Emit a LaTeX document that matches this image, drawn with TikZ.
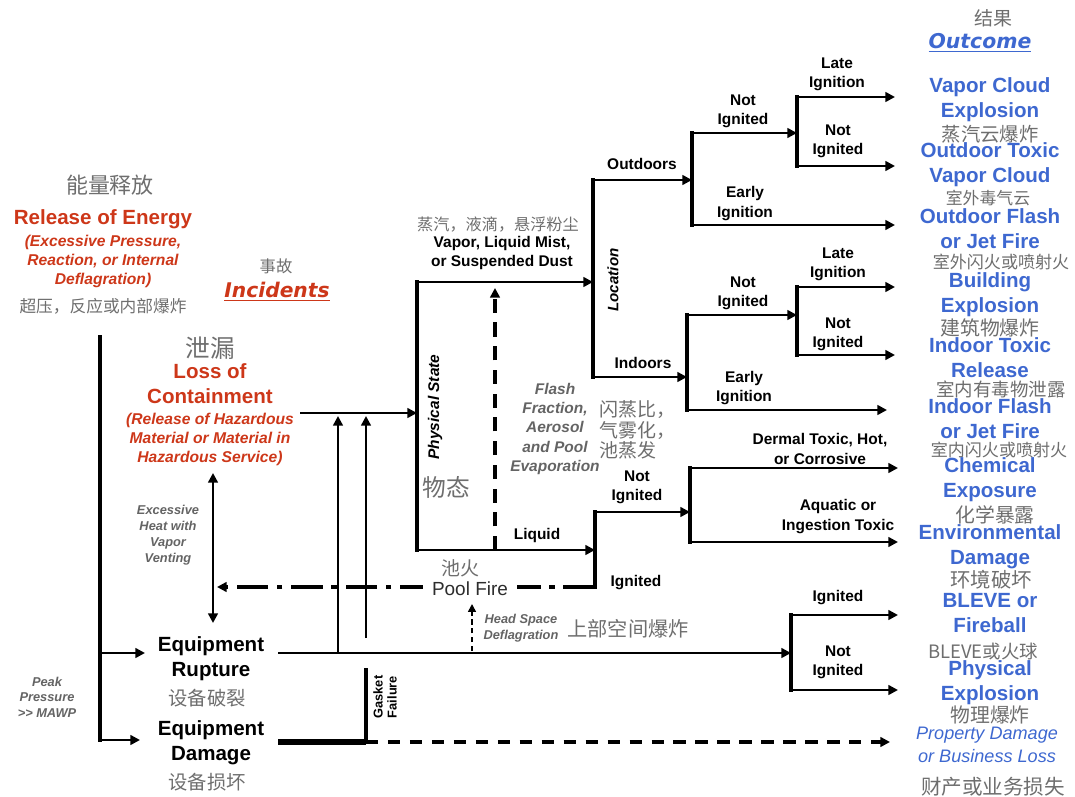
\documentclass[tikz,border=0pt]{standalone}
\usepackage{fontspec}
\setmainfont{Liberation Sans}
\newfontfamily\cjk{Noto Sans CJK SC}
\newfontfamily\verd{DejaVu Sans}
\usetikzlibrary{arrows.meta}

\definecolor{relred}{RGB}{205,55,25}
\definecolor{outblue}{RGB}{62,104,208}
\definecolor{cngray}{RGB}{110,110,110}
\definecolor{notegray}{RGB}{100,100,100}

\tikzset{
  lbl/.style={font=\bfseries\fontsize{8.8}{11}\selectfont, align=center, inner sep=0pt},
  head/.style={font=\bfseries\fontsize{11.7}{14.2}\selectfont, align=center, inner sep=0pt},
  outc/.style={head, text=outblue},
  cn/.style={font=\cjk\fontsize{10.5}{12}\selectfont, text=cngray, inner sep=0pt},
  rednote/.style={font=\bfseries\itshape\fontsize{8.9}{10.8}\selectfont, text=relred, align=center, inner sep=0pt},
  note/.style={font=\bfseries\itshape\fontsize{7.3}{9}\selectfont, text=notegray, align=center, inner sep=0pt},
  flow/.style={line width=1.6pt, -{Triangle[length=5.5pt,width=5.5pt]}},
  link/.style={line width=1.6pt},
  split/.style={line width=2.4pt, line cap=rect},
}

\begin{document}
\begin{tikzpicture}[x=0.02cm,y=-0.02cm]
    \useasboundingbox (0,0) rectangle (1075,797);

    % Energy release and incidents
    \node[cn, font=\cjk\fontsize{12.5}{14}\selectfont] (roeCn) at (110,185) {能量释放};
    \node[head, text=relred] (roe) at (103,219) {Release of Energy};
    \node[rednote] (roeNote) at (103,261) {(Excessive Pressure,\\Reaction, or Internal\\Deflagration)};
    \node[cn, font=\cjk\fontsize{9.5}{11}\selectfont] (roeCn2) at (103,306) {超压，反应或内部爆炸};
    \node[cn, font=\cjk\fontsize{9.3}{11}\selectfont] (incCn) at (276,266) {事故};
    \node[font=\verd\bfseries\itshape\fontsize{11.5}{14}\selectfont, text=relred, inner sep=0pt] (inc) at (277,292) {\underline{Incidents}};

    \node[cn, font=\cjk\fontsize{14}{16}\selectfont] (locCn) at (210,348) {泄漏};
    \node[head, text=relred] (loc) at (210,384) {Loss of\\Containment};
    \node[rednote] (locNote) at (210,439) {(Release of Hazardous\\Material or Material in\\Hazardous Service)};

    \node[head] (rup) at (211,658.5) {Equipment\\Rupture};
    \node[cn, font=\cjk\fontsize{11}{13}\selectfont] (rupCn) at (207,698) {设备破裂};
    \node[head] (dam) at (211,742.5) {Equipment\\Damage};
    \node[cn, font=\cjk\fontsize{11}{13}\selectfont] (damCn) at (207,782) {设备损坏};

    \node[note, font=\bfseries\itshape\fontsize{7.3}{8.8}\selectfont] (peak) at (47,697) {Peak\\Pressure\\>{}> MAWP};
    \node[note, font=\bfseries\itshape\fontsize{7.3}{9.2}\selectfont] (heat) at (168,535) {Excessive\\Heat with\\Vapor\\Venting};
    \node[note, font=\bfseries\fontsize{7.3}{8}\selectfont, text=black, rotate=90] (gasket) at (385,697) {Gasket\\Failure};

    % left trunk
    \coordinate (trT) at (100,337);
    \coordinate (trR) at (100,653);
    \coordinate (trD) at (100,740);
    \coordinate (rupIn) at (145,653);
    \coordinate (damIn) at (140,740);
    \draw[split] (trT) -- (trD);
    \draw[flow] (trR) -- (rupIn);
    \draw[flow] (trD) -- (damIn);
    \coordinate (heatT) at (213,473);
    \coordinate (heatB) at (213,623);
    \draw[line width=1.6pt, {Triangle[length=5.5pt,width=5.5pt]}-{Triangle[length=5.5pt,width=5.5pt]}] (heatT) -- (heatB);

    % physical state
    \coordinate (locS) at (300,413);
    \coordinate (ps) at (417,413);
    \coordinate (psT) at (417,282);
    \coordinate (psB) at (417,550);
    \draw[split] (psT) -- (psB);
    \draw[flow] (locS) -- (ps);
    \coordinate (upA) at (338,653);
    \coordinate (upAt) at (338,416);
    \coordinate (upB) at (366,638);
    \coordinate (upBt) at (366,416);
    \draw[flow] (upA) -- (upAt);
    \draw[flow] (upB) -- (upBt);
    \node[font=\bfseries\itshape\fontsize{8.8}{10}\selectfont, rotate=90, inner sep=0pt] (psLbl) at (435,407) {Physical State};
    \node[cn, font=\cjk\fontsize{13.5}{15}\selectfont] (psCn) at (446,487) {物态};

    \node[cn, font=\cjk\fontsize{9.2}{11}\selectfont] (vapCn) at (498,225) {蒸汽，液滴，悬浮粉尘};
    \node[lbl] (vap) at (502,253) {Vapor, Liquid Mist,\\or Suspended Dust};
    \node[lbl] (liq) at (537,535) {Liquid};

    % flash fraction
    \coordinate (flB) at (495,550);
    \coordinate (flT) at (495,288);
    \draw[line width=1.8pt, dash pattern=on 8pt off 5.5pt, -{Triangle[length=5.5pt,width=5.5pt]}] (flB) -- (flT);
    \node[note, font=\bfseries\itshape\fontsize{8.8}{10.9}\selectfont] (flash) at (555,429) {Flash\\Fraction,\\Aerosol\\and Pool\\Evaporation};
    \node[cn, font=\cjk\fontsize{10.8}{11.6}\selectfont, align=left, anchor=west] (flashCn) at (599,430) {闪蒸比，\\气雾化，\\池蒸发};

    % location
    \coordinate (locT) at (593,180);
    \coordinate (locB) at (593,377);
    \coordinate (locM) at (593,282);
    \draw[split] (locT) -- (locB);
    \draw[flow] (psT) -- (locM);
    \node[font=\bfseries\itshape\fontsize{8.6}{10}\selectfont, rotate=90, inner sep=0pt] (locLbl) at (613,280) {Location};

    % outdoors
    \coordinate (outT) at (692,133);
    \coordinate (outB) at (692,225);
    \coordinate (outM) at (692,180);
    \coordinate (onT) at (797,97);
    \coordinate (onB) at (797,166);
    \coordinate (onM) at (797,133);
    \draw[flow] (locT) -- (outM);
    \draw[split] (outT) -- (outB);
    \draw[flow] (outT) -- (onM);
    \draw[split] (onT) -- (onB);
    \node[lbl] (outd) at (642,164) {Outdoors};
    \node[lbl] (outNi) at (743,111) {Not\\Ignited};
    \node[lbl] (outEi) at (745,203.5) {Early\\Ignition};
    \node[lbl] (outLi) at (837,74) {Late\\Ignition};
    \node[lbl] (outNi2) at (838,141) {Not\\Ignited};

    % indoors
    \coordinate (inT) at (687,315);
    \coordinate (inB) at (687,410);
    \coordinate (inM) at (687,377);
    \coordinate (inNT) at (797,287);
    \coordinate (inNB) at (797,355);
    \coordinate (inNM) at (797,315);
    \draw[flow] (locB) -- (inM);
    \draw[split] (inT) -- (inB);
    \draw[flow] (inT) -- (inNM);
    \draw[split] (inNT) -- (inNB);
    \node[lbl] (ind) at (643,363) {Indoors};
    \node[lbl] (inNi) at (743,293) {Not\\Ignited};
    \node[lbl] (inEi) at (744,388) {Early\\Ignition};
    \node[lbl] (inLi) at (838,264.5) {Late\\Ignition};
    \node[lbl] (inNi2) at (838,334) {Not\\Ignited};

    % liquid
    \coordinate (liqT) at (595,512);
    \coordinate (liqB) at (595,587);
    \coordinate (liqM) at (595,550);
    \coordinate (niT) at (690,468);
    \coordinate (niB) at (690,542);
    \coordinate (niM) at (690,512);
    \coordinate (poolE) at (217,587);
    \draw[flow] (psB) -- (liqM);
    \draw[split] (liqT) -- (liqB);
    \draw[flow] (liqT) -- (niM);
    \draw[split] (niT) -- (niB);
    \draw[line width=2.6pt, dash pattern=on 18pt off 5pt on 3pt off 5pt, -{Triangle[length=5.5pt,width=5.5pt]}] (liqB) -- (poolE);
    \node[cn, font=\cjk\fontsize{10.8}{12}\selectfont] (poolCn) at (460,568) {池火};
    \node[font=\fontsize{10.8}{12}\selectfont, text={rgb,255:red,45;green,45;blue,45}, fill=white, inner xsep=5pt, inner ysep=1pt] (pool) at (470,589) {Pool Fire};
    \node[lbl] (liqNi) at (637,487.5) {Not\\Ignited};
    \node[lbl] (liqIg) at (636,583) {Ignited};
    \node[lbl] (derm) at (820,449) {Dermal Toxic, Hot,\\or Corrosive};
    \node[lbl] (aqua) at (838,516.5) {Aquatic or\\Ingestion Toxic};

    % rupture
    \coordinate (rupS) at (278,653);
    \coordinate (ruT) at (791,615);
    \coordinate (ruB) at (791,690);
    \coordinate (ruM) at (791,653);
    \draw[flow] (rupS) -- (ruM);
    \draw[split] (ruT) -- (ruB);
    \coordinate (hsB) at (472,651);
    \coordinate (hsT) at (472,604);
    \draw[line width=0.9pt, dash pattern=on 3pt off 2pt, -{Triangle[length=4.5pt,width=4.5pt]}] (hsB) -- (hsT);
    \node[note, font=\bfseries\itshape\fontsize{7.3}{9}\selectfont] (hs) at (521,628) {Head Space\\Deflagration};
    \node[cn, font=\cjk\fontsize{11.5}{13}\selectfont] (hsCn) at (628,629) {上部空间爆炸};
    \node[lbl] (ruIg) at (838,598) {Ignited};
    \node[lbl] (ruNi) at (838,662.5) {Not\\Ignited};

    % damage
    \coordinate (damS) at (278,742);
    \coordinate (gsk) at (366,742);
    \coordinate (gskT) at (366,670);
    \draw[line width=3pt] (damS) -- (gsk);
    \draw[split] (gskT) -- (gsk);

    % outcomes
    \node[cn, font=\cjk\fontsize{10.8}{12}\selectfont] (resCn) at (993,18) {结果};
    \node[font=\verd\bfseries\itshape\fontsize{11.6}{14}\selectfont, text=outblue, inner sep=0pt] (res) at (980,43) {\underline{Outcome}};

    \node[outc] (vce) at (990,99.5) {Vapor Cloud\\Explosion};
    \node[cn, font=\cjk\fontsize{11}{12}\selectfont] (vceCn) at (990,134) {蒸汽云爆炸};
    \node[outc] (otv) at (990,165) {Outdoor Toxic\\Vapor Cloud};
    \node[cn, font=\cjk\fontsize{9.6}{11}\selectfont] (otvCn) at (988,198) {室外毒气云};
    \node[outc] (ofj) at (990,228.5) {Outdoor Flash\\or Jet Fire};
    \node[cn, font=\cjk\fontsize{9.7}{11}\selectfont] (ofjCn) at (1001,262) {室外闪火或喷射火};
    \node[outc] (bex) at (990,294.5) {Building\\Explosion};
    \node[cn, font=\cjk\fontsize{11.3}{12}\selectfont] (bexCn) at (990,328) {建筑物爆炸};
    \node[outc] (itr) at (990,358) {Indoor Toxic\\Release};
    \node[cn, font=\cjk\fontsize{10.5}{12}\selectfont] (itrCn) at (1001,389) {室内有毒物泄露};
    \node[outc] (ifj) at (990,419) {Indoor Flash\\or Jet Fire};
    \node[cn, font=\cjk\fontsize{9.7}{11}\selectfont] (ifjCn) at (999,450) {室内闪火或喷射火};
    \node[outc] (chx) at (990,479.5) {Chemical\\Exposure};
    \node[cn, font=\cjk\fontsize{11.3}{12}\selectfont] (chxCn) at (995,515) {化学暴露};
    \node[outc] (env) at (990,546.5) {Environmental\\Damage};
    \node[cn, font=\cjk\fontsize{11.6}{12}\selectfont] (envCn) at (991,580) {环境破坏};
    \node[outc] (blv) at (990,613) {BLEVE or\\Fireball};
    \node[cn, font=\cjk\fontsize{10.5}{12}\selectfont] (blvCn) at (983,652) {BLEVE或火球};
    \node[outc] (phx) at (990,682.5) {Physical\\Explosion};
    \node[cn, font=\cjk\fontsize{11.3}{12}\selectfont] (phxCn) at (990,715) {物理爆炸};
    \node[font=\itshape\fontsize{10.3}{13}\selectfont, text=outblue, align=center, inner sep=0pt] (pdl) at (987,744.5) {Property Damage\\or Business Loss};
    \node[cn, font=\cjk\fontsize{11.7}{13}\selectfont] (pdlCn) at (993,787) {财产或业务损失};

    % arrows into the outcomes
    \coordinate (e1) at (895,97);
    \coordinate (e2) at (895,166);
    \coordinate (e3) at (895,225);
    \coordinate (e4) at (895,287);
    \coordinate (e5) at (895,355);
    \coordinate (e6) at (887,410);
    \coordinate (e7) at (898,468);
    \coordinate (e8) at (898,542);
    \coordinate (e9) at (898,615);
    \coordinate (e10) at (898,690);
    \coordinate (e11) at (890,742);
    \draw[flow] (onT) -- (e1);
    \draw[flow] (onB) -- (e2);
    \draw[flow] (outB) -- (e3);
    \draw[flow] (inNT) -- (e4);
    \draw[flow] (inNB) -- (e5);
    \draw[flow] (inB) -- (e6);
    \draw[flow] (niT) -- (e7);
    \draw[flow] (niB) -- (e8);
    \draw[flow] (ruT) -- (e9);
    \draw[flow] (ruB) -- (e10);
    \draw[line width=1.8pt, dash pattern=on 7pt off 5.5pt, -{Triangle[length=5.5pt,width=5.5pt]}] (gsk) -- (e11);
\end{tikzpicture}
\end{document}
